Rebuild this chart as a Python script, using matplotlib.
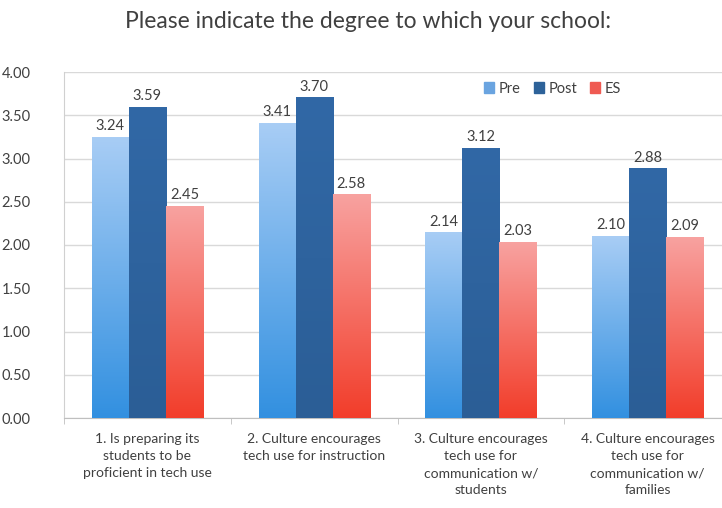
import numpy as np
import matplotlib.pyplot as plt
from matplotlib.colors import LinearSegmentedColormap

plt.rcParams['font.family'] = ['Lato', 'DejaVu Sans']

categories = [
    "1. Is preparing its\nstudents to be\nproficient in tech use",
    "2. Culture encourages\ntech use for instruction",
    "3. Culture encourages\ntech use for\ncommunication w/\nstudents",
    "4. Culture encourages\ntech use for\ncommunication w/\nfamilies",
]
series = ["Pre", "Post", "ES"]
pre = [3.24, 3.41, 2.14, 2.10]
post = [3.59, 3.70, 3.12, 2.88]
es = [2.45, 2.58, 2.03, 2.09]
yticks = [0.0, 0.5, 1.0, 1.5, 2.0, 2.5, 3.0, 3.5, 4.0]

# gradient (bottom colour, top colour) and legend colour per series
grads = {
    "Pre": ("#3290e0", "#a8cdf5"),
    "Post": ("#2b5e96", "#3168a6"),
    "ES": ("#f23d2a", "#f8a2a0"),
}
legend_cols = {"Pre": "#6aa4e0", "Post": "#2d6299", "ES": "#ef5a52"}

fig = plt.figure(figsize=(7.22, 5.08), dpi=100)
ax = fig.add_axes([64 / 722, 1 - 418 / 508, 667 / 722, 346 / 508])

x = np.arange(len(categories))
w = 0.222
grad = np.linspace(0, 1, 256).reshape(-1, 1)

for i, (name, vals) in enumerate(zip(series, [pre, post, es])):
    bars = ax.bar(x + (i - 1) * w, vals, w, color='none', label=name, zorder=3)
    cmap = LinearSegmentedColormap.from_list(name, grads[name])
    for b, v in zip(bars, vals):
        x0 = b.get_x()
        ax.imshow(grad, cmap=cmap, origin='lower', aspect='auto',
                  extent=[x0, x0 + b.get_width(), 0, v], zorder=3)
        ax.text(x0 + b.get_width() / 2, v + 0.05, f"{v:.2f}", ha='center',
                va='bottom', fontsize=10.5, color='#404040', zorder=4)

ax.set_xlim(-0.5, 3.5)
ax.set_ylim(0, 4.0)
ax.set_yticks(yticks)
ax.set_yticklabels([f"{t:.2f}" for t in yticks], fontsize=10.5, color='#404040')
ax.set_xticks(x)
ax.set_xticklabels(categories, fontsize=10, color='#404040', linespacing=1.5)
ax.set_xticks(np.arange(-0.5, 3.6, 1), minor=True)
ax.tick_params(axis='x', which='major', length=0, pad=11)
ax.tick_params(axis='x', which='minor', length=4, color='#bfbfbf')
ax.tick_params(axis='y', length=0, pad=24)
ax.grid(axis='y', color='#d9d9d9', lw=1, zorder=0)
for s in ['top', 'right']:
    ax.spines[s].set_visible(False)
ax.spines['left'].set_color('#d0d0d0')
ax.spines['bottom'].set_color('#bfbfbf')

handles = [plt.Rectangle((0, 0), 1, 1, color=legend_cols[s]) for s in series]
ax.legend(handles, series, loc='center right', bbox_to_anchor=(0.855, 0.952), ncol=3,
          frameon=False, fontsize=10.5, handlelength=0.7, handleheight=0.7,
          handletextpad=0.3, columnspacing=0.9, labelcolor='#404040')

fig.text(0.51, 0.957, "Please indicate the degree to which your school:",
         ha='center', va='center', fontsize=16.5, color='#404040')

fig.savefig('out.png', dpi=100)
